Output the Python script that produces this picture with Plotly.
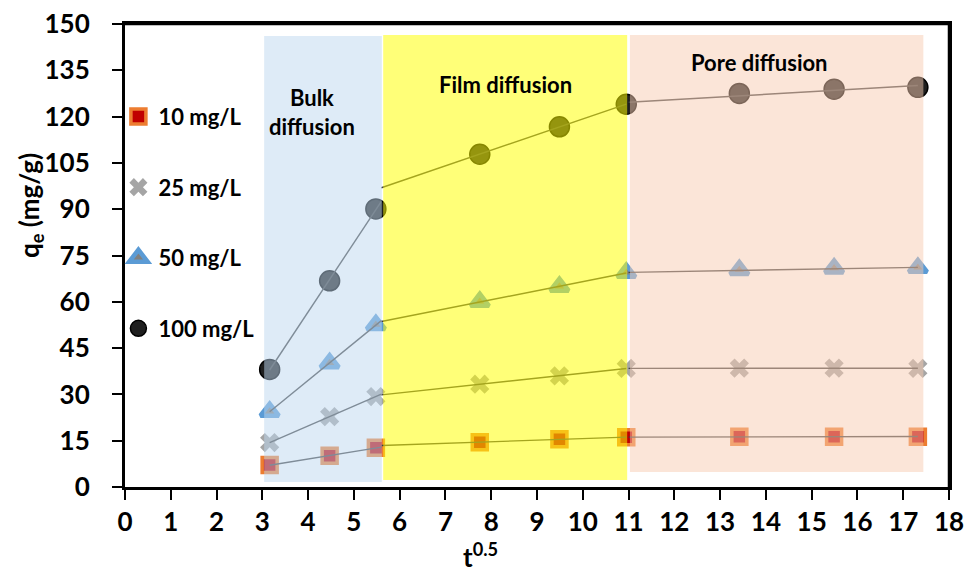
import numpy as np
import plotly.graph_objects as go

# ---- data ----
t_sqrt = [3.16, 4.47, 5.48, 7.75, 9.49, 10.95, 13.42, 15.49, 17.32]
series_names = ["10 mg/L", "25 mg/L", "50 mg/L", "100 mg/L"]
q_10 = [7.1, 10.1, 12.7, 14.5, 15.5, 16.1, 16.3, 16.3, 16.3]
q_25 = [14.4, 22.8, 29.3, 33.3, 36.0, 38.4, 38.5, 38.5, 38.4]
q_50 = [24.4, 40.1, 52.5, 60.0, 64.9, 69.4, 70.3, 70.8, 71.0]
q_100 = [38.1, 66.8, 90.1, 107.8, 116.7, 124.0, 127.5, 128.9, 129.5]

x_ticks = list(range(0, 19))
y_ticks = list(range(0, 151, 15))

# regions: (label, x0, x1, y0, y1)
region_labels = ["Bulk<br>diffusion", "Film diffusion", "Pore diffusion"]
region_x0 = [3.04, 5.64, 11.03]
region_x1 = [5.61, 10.97, 17.44]
region_y0 = [1.6, 2.3, 4.9]
region_y1 = [146.1, 146.4, 146.4]
region_colors = ["rgb(189,215,239)", "rgb(255,255,0)", "rgb(247,203,177)"]
region_opacity = [0.5, 0.53, 0.5]
label_x = [4.08, 8.32, 13.85]
label_y = [121.5, 130.5, 137.6]

# fitting segments: indices of points used, x extent
fit_idx = [[0, 1, 2], [3, 4, 5], [5, 6, 7, 8]]
fit_xr = [[3.16, 5.6], [5.6, 10.95], [11.0, 17.32]]

FONT = "Lato, 'Liberation Sans', Arial, sans-serif"

styles = [
    dict(symbol="square", size=15, color="#C00000", line=dict(color="#ED7D31", width=3.5)),
    dict(symbol="x", size=17, color="#A5A5A5", line=dict(width=0)),
    dict(symbol="triangle-up", size=16, color="#808080", line=dict(color="#5B9BD5", width=4.5)),
    dict(symbol="circle", size=20, color="#1f1f1f", line=dict(color="#000000", width=1.5)),
]

all_q = [q_10, q_25, q_50, q_100]

fig = go.Figure()

for i, (name, q) in enumerate(zip(series_names, all_q)):
    fig.add_trace(go.Scatter(
        x=t_sqrt, y=q, mode="markers", name=name, marker=styles[i],
        legendgroup=name, showlegend=True,
    ))

for q in all_q:
    for idx, xr in zip(fit_idx, fit_xr):
        xs = np.array([t_sqrt[k] for k in idx])
        ys = np.array([q[k] for k in idx])
        m, b = np.polyfit(xs, ys, 1)
        xx = np.array(xr)
        fig.add_trace(go.Scatter(
            x=xx, y=m * xx + b, mode="lines",
            line=dict(color="#404040", width=1.4),
            showlegend=False, hoverinfo="skip",
        ))

for k in range(3):
    fig.add_shape(type="rect", xref="x", yref="y",
                  x0=region_x0[k], x1=region_x1[k], y0=region_y0[k], y1=region_y1[k],
                  fillcolor=region_colors[k], opacity=region_opacity[k],
                  line=dict(width=0), layer="above")
    fig.add_annotation(x=label_x[k], y=label_y[k], xref="x", yref="y",
                       text="<b>" + region_labels[k] + "</b>", showarrow=False,
                       font=dict(family=FONT, size=22, color="#000000"))

# plot frame (top and right edges)
fig.add_shape(type="line", xref="paper", yref="paper", x0=0, x1=1, y0=1, y1=1,
              line=dict(color="#000000", width=2.5), layer="above")
fig.add_shape(type="line", xref="paper", yref="paper", x0=1, x1=1, y0=0, y1=1,
              line=dict(color="#000000", width=2.5), layer="above")

# axis titles
fig.add_annotation(x=-0.1153, y=0.609, xref="paper", yref="paper",
                   text="<b>q<sub>e</sub> (mg/g)</b>", textangle=-90, showarrow=False,
                   xanchor="center", yanchor="middle",
                   font=dict(family=FONT, size=26, color="#000000"))
fig.add_annotation(x=0.431, y=-0.148, xref="paper", yref="paper",
                   text="<b>t<sup>0.5</sup></b>", showarrow=False,
                   xanchor="center", yanchor="middle",
                   font=dict(family=FONT, size=26, color="#000000"))

fig.update_layout(
    width=966, height=573,
    margin=dict(l=125, r=17, t=24, b=86, autoexpand=False),
    plot_bgcolor="white", paper_bgcolor="white",
    font=dict(family=FONT, color="#000000"),
    showlegend=True,
    legend=dict(x=-0.008, y=0.845, xanchor="left", yanchor="top",
                font=dict(family=FONT, size=22, color="#000000", weight="bold"),
                tracegroupgap=39, bgcolor="rgba(0,0,0,0)", itemsizing="trace"),
    xaxis=dict(range=[0, 18], tickvals=x_ticks, ticktext=[str(v) for v in x_ticks],
               automargin=False,
               ticks="outside", ticklen=10, tickwidth=1.5, tickcolor="#000",
               showline=True, linecolor="#000", linewidth=2.5, mirror=True,
               showgrid=False, zeroline=False,
               tickfont=dict(family=FONT, size=26, color="#000", weight="bold")),
    yaxis=dict(range=[0, 150], tickvals=y_ticks,
               ticktext=[str(v) + "\u2002\u2006" for v in y_ticks],
               automargin=False,
               ticks="outside", ticklen=10, tickwidth=1.5, tickcolor="#000",
               showline=True, linecolor="#000", linewidth=2.5, mirror=True,
               showgrid=False, zeroline=False,
               tickfont=dict(family=FONT, size=26, color="#000", weight="bold")),
)

fig.write_html("out.html", config={"displayModeBar": False},
               post_script="document.body.style.margin='0';document.body.style.overflow='hidden';")
